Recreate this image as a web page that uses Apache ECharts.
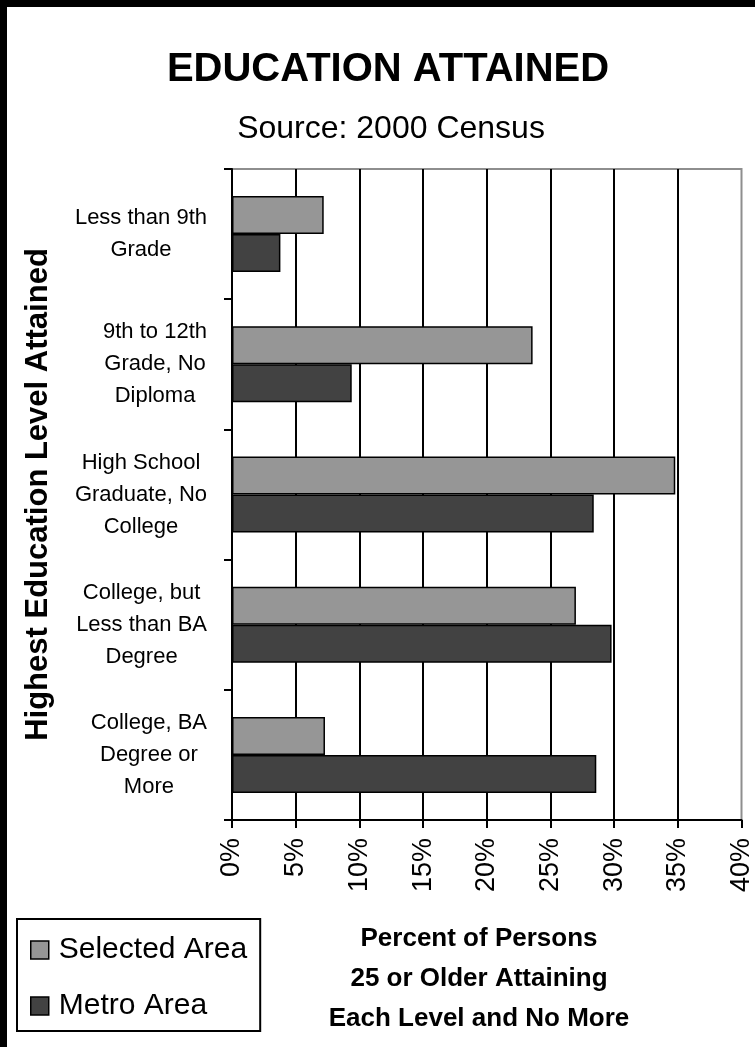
<!DOCTYPE html>
<html>
<head>
<meta charset="utf-8">
<style>
  html, body { margin: 0; padding: 0; background: #ffffff; }
  #chart { width: 755px; height: 1047px; }
</style>
<script src="https://cdn.jsdelivr.net/npm/echarts@6/dist/echarts.min.js"></script>
</head>
<body>
<div id="chart"></div>
<script>
const categories = [
  'Less than 9th\nGrade',
  '9th to 12th\nGrade, No\nDiploma',
  'High School\nGraduate, No\nCollege',
  'College, but\nLess than BA\nDegree',
  'College, BA\nDegree or\nMore'
];
const selectedArea = [7.2, 23.6, 34.8, 27.0, 7.3];
const metroArea = [3.8, 9.4, 28.4, 29.8, 28.6];
const xTicks = { min: 0, max: 40, interval: 5 };

const FONT = '"Liberation Sans", Arial, sans-serif';

const chart = echarts.init(document.getElementById('chart'), null, { renderer: 'canvas' });

const option = {
  backgroundColor: '#ffffff',
  animation: false,
  title: [
    {
      text: 'EDUCATION ATTAINED',
      left: 383, top: 45, textAlign: 'center',
      textStyle: { fontFamily: FONT, fontSize: 40, fontWeight: 'bold', color: '#000' }
    },
    {
      text: 'Source: 2000 Census',
      left: 386, top: 108, textAlign: 'center',
      textStyle: { fontFamily: FONT, fontSize: 32, fontWeight: 'normal', color: '#000' }
    },
    {
      text: 'Percent of Persons\n25 or Older Attaining\nEach Level and No More',
      left: 474, top: 914, textAlign: 'center',
      textStyle: { fontFamily: FONT, fontSize: 26, fontWeight: 'bold', color: '#000', lineHeight: 40 }
    }
  ],
  graphic: [
    { type: 'rect', left: 0, top: 0, shape: { width: 755, height: 7 }, style: { fill: '#000' }, silent: true },
    { type: 'rect', left: 0, top: 0, shape: { width: 7, height: 1047 }, style: { fill: '#000' }, silent: true }
  ],
  legend: {
    orient: 'vertical',
    left: 17, top: 919,
    padding: [16, 13, 10, 13],
    itemGap: 26,
    itemWidth: 18, itemHeight: 18,
    icon: 'rect',
    borderColor: '#000', borderWidth: 2,
    backgroundColor: '#fff',
    itemStyle: { borderColor: '#000', borderWidth: 1.5 },
    textStyle: { fontFamily: FONT, fontSize: 30, color: '#000', padding: [0, 0, 0, 5] },
    data: ['Selected Area', 'Metro Area']
  },
  grid: {
    left: 232, right: 13, top: 169, bottom: 227,
    show: true, borderColor: '#8e8e8e', borderWidth: 2, backgroundColor: '#fff',
    containLabel: false
  },
  xAxis: {
    type: 'value',
    min: xTicks.min, max: xTicks.max, interval: xTicks.interval,
    axisLine: { show: true, lineStyle: { color: '#000', width: 2 } },
    axisTick: { show: true, length: 8, lineStyle: { color: '#000', width: 2 } },
    splitLine: { show: true, showMinLine: false, showMaxLine: false, lineStyle: { color: '#000', width: 2 } },
    axisLabel: {
      rotate: 90, margin: 18,
      formatter: '{value}%',
      fontFamily: FONT, fontSize: 27, color: '#000'
    }
  },
  yAxis: {
    type: 'category',
    inverse: true,
    data: categories,
    name: 'Highest Education Level Attained',
    nameLocation: 'middle',
    nameRotate: 90,
    nameGap: 178,
    nameTextStyle: { fontFamily: FONT, fontSize: 31, fontWeight: 'bold', color: '#000' },
    axisLine: { show: true, lineStyle: { color: '#000', width: 2 } },
    axisTick: { show: true, length: 8, alignWithLabel: false, lineStyle: { color: '#000', width: 2 } },
    splitLine: { show: false },
    axisLabel: {
      margin: 25,
      align: 'right',
      formatter: function (v) {
        return v.split('\n').map(function (l) { return '{c|' + l + '}'; }).join('\n');
      },
      rich: {
        c: { align: 'center', fontFamily: FONT, fontSize: 22, lineHeight: 32, color: '#000' }
      }
    }
  },
  series: [
    {
      name: 'Selected Area',
      type: 'bar',
      data: selectedArea,
      barWidth: 38,
      barGap: '0%',
      itemStyle: { color: '#969696', borderColor: '#000', borderWidth: 1.5 }
    },
    {
      name: 'Metro Area',
      type: 'bar',
      data: metroArea,
      barWidth: 38,
      barGap: '0%',
      itemStyle: { color: '#424242', borderColor: '#000', borderWidth: 1.5 }
    }
  ]
};

chart.setOption(option);
</script>
</body>
</html>
